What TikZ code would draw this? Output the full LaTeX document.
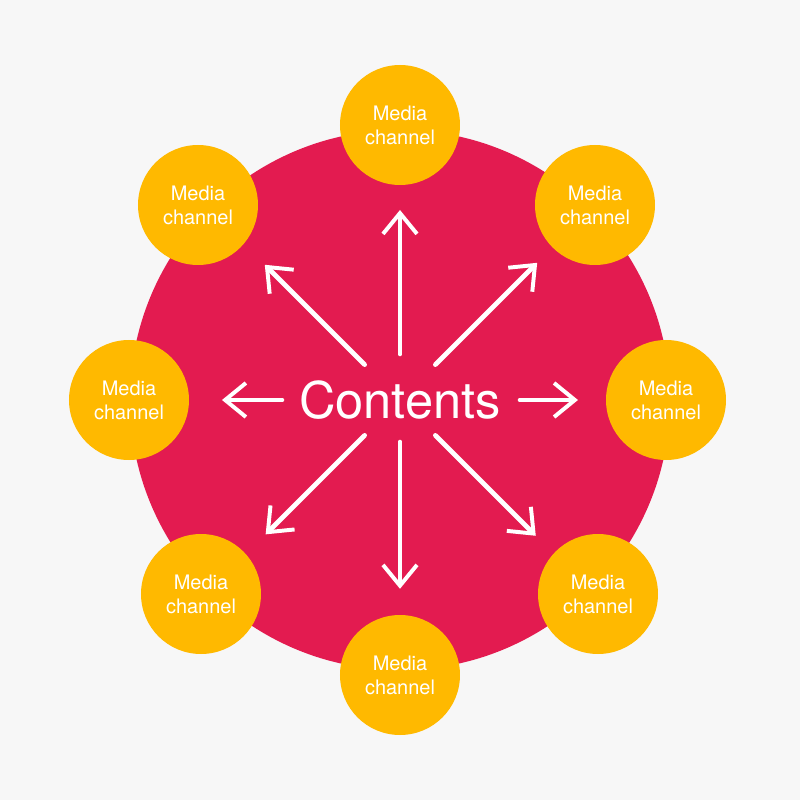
\documentclass[tikz,border=0pt]{standalone}
\usepackage{fontspec}
\setmainfont{TeX Gyre Heros}
\usetikzlibrary{arrows.meta}
\definecolor{crimson}{HTML}{E31B50}
\definecolor{amber}{HTML}{FFB900}
\definecolor{paper}{HTML}{F7F7F7}
\tikzset{
	hub/.style={circle, fill=crimson, minimum size=13.5cm, inner sep=0pt, text=white, font=\fontsize{36}{40}\selectfont},
	channel/.style={circle, fill=amber, minimum size=3cm, inner sep=0pt, text=white, align=center, font=\fontsize{14.2}{17}\selectfont},
	chalk/.style={white, line width=3.3pt, line cap=round, -{Straight Barb[length=5.2mm, width=8.5mm, line width=2.8pt]}}
}
\begin{document}
\begin{tikzpicture}
		\fill[paper] (-10, -10) rectangle (10, 10);
		\useasboundingbox (-10, -10) rectangle (10, 10);

		\node[hub] (hub) at (0, 0) {Contents};

		% media channels round the hub
		\node[channel] (chTop) at (0, 6.875) {Media\\channel};
		\node[channel] (chTopRight) at (4.875, 4.875) {Media\\channel};
		\node[channel] (chRight) at (6.65, 0) {Media\\channel};
		\node[channel] (chBottomRight) at (4.95, -4.85) {Media\\channel};
		\node[channel] (chBottom) at (0, -6.875) {Media\\channel};
		\node[channel] (chBottomLeft) at (-4.975, -4.85) {Media\\channel};
		\node[channel] (chLeft) at (-6.775, 0) {Media\\channel};
		\node[channel] (chTopLeft) at (-5.05, 4.875) {Media\\channel};

		% chalk arrows out of the hub
		\foreach \a/\r/\R in {90/1.15/4.75, 45/1.25/4.85, 135/1.25/4.78, 225/1.25/4.75, 270/1.05/4.72, 315/1.25/4.8, 0/3/4.45, 180/2.95/4.45} {
			\coordinate (tail\a) at (\a:\r);
			\coordinate (tip\a) at (\a:\R);
			\draw[chalk] (tail\a) -- (tip\a);
		}
\end{tikzpicture}
\end{document}
